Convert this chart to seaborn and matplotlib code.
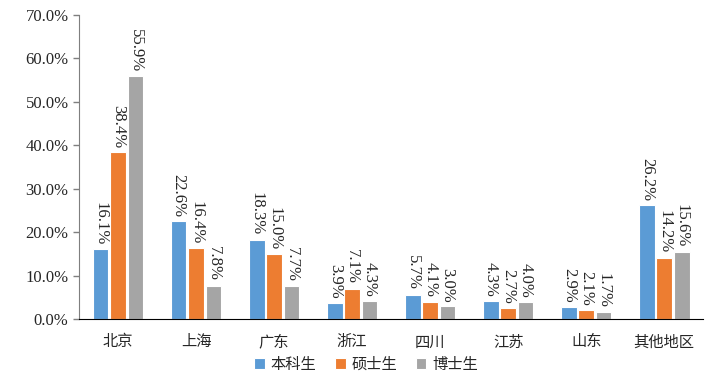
import pandas as pd
import numpy as np
import matplotlib.pyplot as plt
import seaborn as sns
from matplotlib.ticker import FuncFormatter, FixedLocator

# Data (percent of graduates by region)
regions = ["北京", "上海", "广东", "浙江", "四川", "江苏", "山东", "其他地区"]
undergrad = [16.1, 22.6, 18.3, 3.9, 5.7, 4.3, 2.9, 26.2]
master = [38.4, 16.4, 15.0, 7.1, 4.1, 2.7, 2.1, 14.2]
doctor = [55.9, 7.8, 7.7, 4.3, 3.0, 4.0, 1.7, 15.6]
groups = ["本科生", "硕士生", "博士生"]
colors = ["#5B9BD5", "#ED7D31", "#A5A5A5"]

df = pd.DataFrame({
    "region": regions * 3,
    "group": [groups[0]] * 8 + [groups[1]] * 8 + [groups[2]] * 8,
    "value": undergrad + master + doctor,
})

sns.set_style("white")
plt.rcParams["font.family"] = ["Liberation Serif", "Noto Sans CJK SC"]

fig, ax = plt.subplots(figsize=(7.25, 3.84), dpi=100)
fig.subplots_adjust(left=0.109, right=0.970, top=0.962, bottom=0.168)

sns.barplot(data=df, x="region", y="value", hue="group", palette=colors,
            saturation=1, width=0.67, gap=0.1, edgecolor="white", linewidth=0.8,
            ax=ax, legend=True)

# Rotated value labels above each bar
for cont in ax.containers:
    ax.bar_label(cont, labels=[f"{v:.1f}%" for v in cont.datavalues],
                 rotation=-90, padding=3, fontsize=12,
                 family=["Liberation Serif", "Noto Sans CJK SC"])

ax.set_ylim(0, 70)
ax.set_yticks(np.arange(0, 71, 10))
ax.yaxis.set_major_formatter(FuncFormatter(lambda v, p: f"{v:.1f}%"))
ax.set_xlim(-0.5, 7.5)
ax.set_xlabel("")
ax.set_ylabel("")

# tick marks between categories
ax.xaxis.set_minor_locator(FixedLocator(np.arange(-0.5, 8, 1)))
ax.tick_params(axis="x", which="major", length=0, labelsize=11, pad=10)
ax.tick_params(axis="x", which="minor", direction="in", length=4, width=1, color="black")
ax.tick_params(axis="y", which="major", direction="out", length=4, width=1,
               color="#7f7f7f", labelsize=12, left=True)
for lab in ax.get_xticklabels():
    lab.set_family(["Noto Sans CJK SC"])

sns.despine(ax=ax)
ax.spines["left"].set_color("#7f7f7f")
ax.spines["bottom"].set_color("black")

ax.legend(loc="upper center", bbox_to_anchor=(0.46, -0.075), ncol=3, frameon=False,
          handlelength=0.7, handleheight=0.7, handletextpad=0.4, columnspacing=1.2,
          prop={"family": "Noto Sans CJK SC", "size": 11})

fig.savefig("out.png", dpi=100)
